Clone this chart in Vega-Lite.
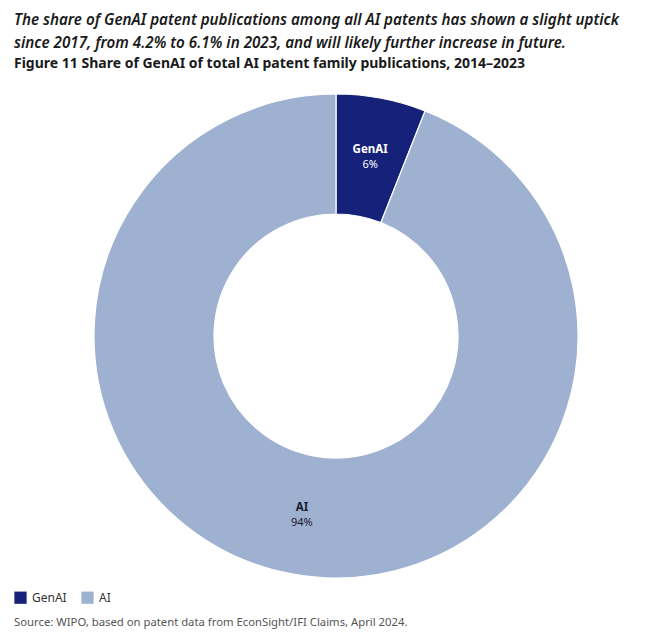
{
  "$schema": "https://vega.github.io/schema/vega-lite/v6.json",
  "autosize": {"type": "none"},
  "width": 626,
  "height": 492,
  "padding": {"left": 23, "top": 90, "right": 0, "bottom": 55},
  "background": "white",
  "config": {"view": {"stroke": null}, "font": "Noto Sans"},
  "title": {
    "text": ["The share of GenAI patent publications among all AI patents has shown a slight uptick", "since 2017, from 4.2% to 6.1% in 2023, and will likely further increase in future."],
    "subtitle": "Figure 11 Share of GenAI of total AI patent family publications, 2014–2023",
    "anchor": "start",
    "frame": "group",
    "dx": -9,
    "offset": 19,
    "font": "Noto Sans",
    "fontSize": 15.2,
    "fontStyle": "italic",
    "fontWeight": 600,
    "lineHeight": 23,
    "color": "#1a1a1a",
    "subtitleFont": "Noto Sans",
    "subtitleFontSize": 14,
    "subtitleFontWeight": "bold",
    "subtitleColor": "#1a1a1a",
    "subtitlePadding": 6
  },
  "data": {
    "values": [
      {"cat": "GenAI", "value": 6, "pct": "6%", "ord": 1},
      {"cat": "AI", "value": 94, "pct": "94%", "ord": 2}
    ]
  },
  "encoding": {
    "theta": {"field": "value", "type": "quantitative", "stack": true},
    "order": {"field": "ord", "type": "quantitative"}
  },
  "layer": [
    {
      "mark": {"type": "arc", "innerRadius": 122, "outerRadius": 242, "stroke": "white", "strokeWidth": 1.2},
      "encoding": {
        "color": {
          "field": "cat",
          "type": "nominal",
          "scale": {"domain": ["GenAI", "AI"], "range": ["#16217a", "#9eb1d0"]},
          "legend": {
            "orient": "none",
            "legendX": -9,
            "legendY": 501,
            "direction": "horizontal",
            "title": "Source: WIPO, based on patent data from EconSight/IFI Claims, April 2024.",
            "titleOrient": "bottom",
            "titleFontWeight": "normal",
            "titleFontSize": 11.3,
            "titleColor": "#555555",
            "titleFont": "Noto Sans",
            "titlePadding": 13,
            "titleLimit": 600,
            "symbolType": "square",
            "symbolSize": 150,
            "symbolStrokeWidth": 0,
            "labelFontSize": 12,
            "labelColor": "#333333",
            "labelFont": "Noto Sans",
            "columnPadding": 14,
            "labelOffset": 5
          }
        }
      }
    },
    {
      "mark": {"type": "text", "radius": 182, "dy": -7, "fontSize": 11.5, "fontWeight": "bold"},
      "encoding": {
        "text": {"field": "cat"},
        "color": {"condition": {"test": "datum.cat === 'GenAI'", "value": "white"}, "value": "#1a1a2e"}
      }
    },
    {
      "mark": {"type": "text", "radius": 182, "dy": 8, "fontSize": 11},
      "encoding": {
        "text": {"field": "pct"},
        "color": {"condition": {"test": "datum.cat === 'GenAI'", "value": "white"}, "value": "#1a1a2e"}
      }
    }
  ]
}
